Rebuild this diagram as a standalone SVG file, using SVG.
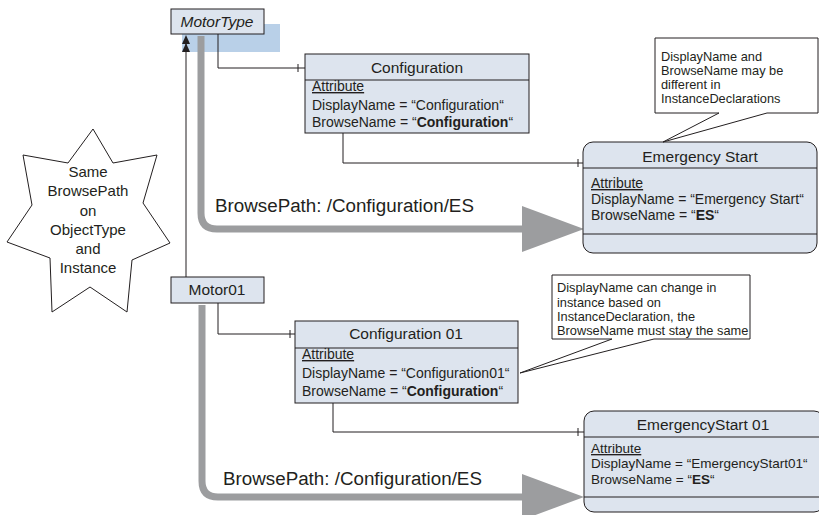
<svg xmlns="http://www.w3.org/2000/svg" width="819" height="515" viewBox="0 0 819 515">
<defs>
<style>
text{font-family:"Liberation Sans",Arial,sans-serif;fill:#231f20}
.box{fill:#dde4ee;stroke:#231f20;stroke-width:1}
.ln{fill:none;stroke:#231f20;stroke-width:1}
.gray{fill:none;stroke:#9c9d9f;stroke-width:7}
.tri{fill:#9c9d9f}
.title{font-size:15.5px;text-anchor:middle}
.attr{font-size:14px}
.attr2{font-size:13.5px}
.note{font-size:12.8px}
.call{fill:#fff;stroke:#231f20;stroke-width:1}
.bp{font-size:18.8px}
</style>
</defs>
<g id="connectors">
<rect x="182" y="24" width="98" height="28" fill="#b9d0e8"/>
<path class="ln" d="M186,277 V44"/>
<polygon points="186,35 182,44 190,44" fill="#231f20"/>
<polygon points="186,43 182,52 190,52" fill="#231f20"/>
<path class="ln" d="M218,34 V68 H305 M298,64 V72"/>
<path class="ln" d="M343,133 V163 H583 M578,159 V167"/>
<path class="ln" d="M218,303 V334 H295 M290,330 V338"/>
<path class="ln" d="M333,403 V432 H584 M578,428 V436"/>
<path class="gray" d="M201,36 V213 Q201,229 217,229 H530"/>
<polygon class="tri" points="522,206 584,229 522,252"/>
<path class="gray" d="M202,305 V481 Q202,497 218,497 H530"/>
<polygon class="tri" points="522,474 584,497 522,520"/>
<text class="bp" x="215" y="212">BrowsePath: /Configuration/ES</text>
<text class="bp" x="223" y="485">BrowsePath: /Configuration/ES</text>
</g>
<g id="motortype">
<rect class="box" x="171" y="9" width="93" height="25"/>
<text class="title" x="217" y="27" font-style="italic">MotorType</text>
</g>
<g id="motor01">
<rect class="box" x="171" y="277" width="93" height="26"/>
<text class="title" x="217" y="295">Motor01</text>
</g>
<g id="configuration">
<rect class="box" x="305" y="54" width="224" height="79"/>
<line class="ln" x1="305" y1="80" x2="529" y2="80"/>
<text class="title" x="417" y="73">Configuration</text>
<text class="attr" x="312" y="91" text-decoration="underline">Attribute</text>
<text class="attr" x="312" y="110">DisplayName = “Configuration“</text>
<text class="attr" x="312" y="127">BrowseName = “<tspan font-weight="bold">Configuration</tspan>“</text>
</g>
<g id="emergency-start">
<rect class="box" x="583" y="142" width="234" height="111" rx="10"/>
<line class="ln" x1="583" y1="168" x2="817" y2="168"/>
<line class="ln" x1="583" y1="234" x2="817" y2="234"/>
<text class="title" x="700" y="162">Emergency Start</text>
<text class="attr" x="591" y="188" text-decoration="underline">Attribute</text>
<text class="attr" x="591" y="204">DisplayName = “Emergency Start“</text>
<text class="attr" x="591" y="220">BrowseName = “<tspan font-weight="bold">ES</tspan>“</text>
</g>
<g id="configuration01">
<rect class="box" x="295" y="321" width="223" height="82"/>
<line class="ln" x1="295" y1="348" x2="518" y2="348"/>
<text class="title" x="406" y="339">Configuration 01</text>
<text class="attr" x="302" y="359" text-decoration="underline">Attribute</text>
<text class="attr" x="302" y="378">DisplayName = “Configuration01“</text>
<text class="attr" x="302" y="396">BrowseName = “<tspan font-weight="bold">Configuration</tspan>“</text>
</g>
<g id="emergency-start01">
<rect class="box" x="584" y="411" width="240" height="101" rx="10"/>
<line class="ln" x1="584" y1="437" x2="824" y2="437"/>
<line class="ln" x1="584" y1="497" x2="824" y2="497"/>
<text class="title" x="703" y="430">EmergencyStart 01</text>
<text class="attr2" x="591" y="453" text-decoration="underline">Attribute</text>
<text class="attr2" x="591" y="468">DisplayName = “EmergencyStart01“</text>
<text class="attr2" x="591" y="484">BrowseName = “<tspan font-weight="bold">ES</tspan>“</text>
</g>
<g id="note1">
<path class="call" d="M655,38 H818 V113 H767 L663,142 L719,113 H655 Z"/>
<text class="note" x="661" y="61">DisplayName and</text>
<text class="note" x="661" y="75">BrowseName may be</text>
<text class="note" x="661" y="89">different in</text>
<text class="note" x="661" y="103">InstanceDeclarations</text>
</g>
<g id="note2">
<path class="call" d="M552,275 H750 V339 H654 L520,373 L612,339 H552 Z"/>
<text class="note" x="557" y="292">DisplayName can change in</text>
<text class="note" x="557" y="307">instance based on</text>
<text class="note" x="557" y="321">InstanceDeclaration, the</text>
<text class="note" x="557" y="335">BrowseName must stay the same</text>
</g>
<g id="star">
<polygon fill="#fff" stroke="#231f20" stroke-width="1" points="93,129 113,163 157,155 143,203 170,243 132,260 127,312 90,287 52,312 50,258 7,242 32,205 23,155 68,163"/>
<g font-size="15" text-anchor="middle">
<text x="88" y="177">Same</text>
<text x="88" y="196">BrowsePath</text>
<text x="88" y="216">on</text>
<text x="88" y="235">ObjectType</text>
<text x="88" y="254">and</text>
<text x="88" y="273">Instance</text>
</g>
</g>
</svg>
